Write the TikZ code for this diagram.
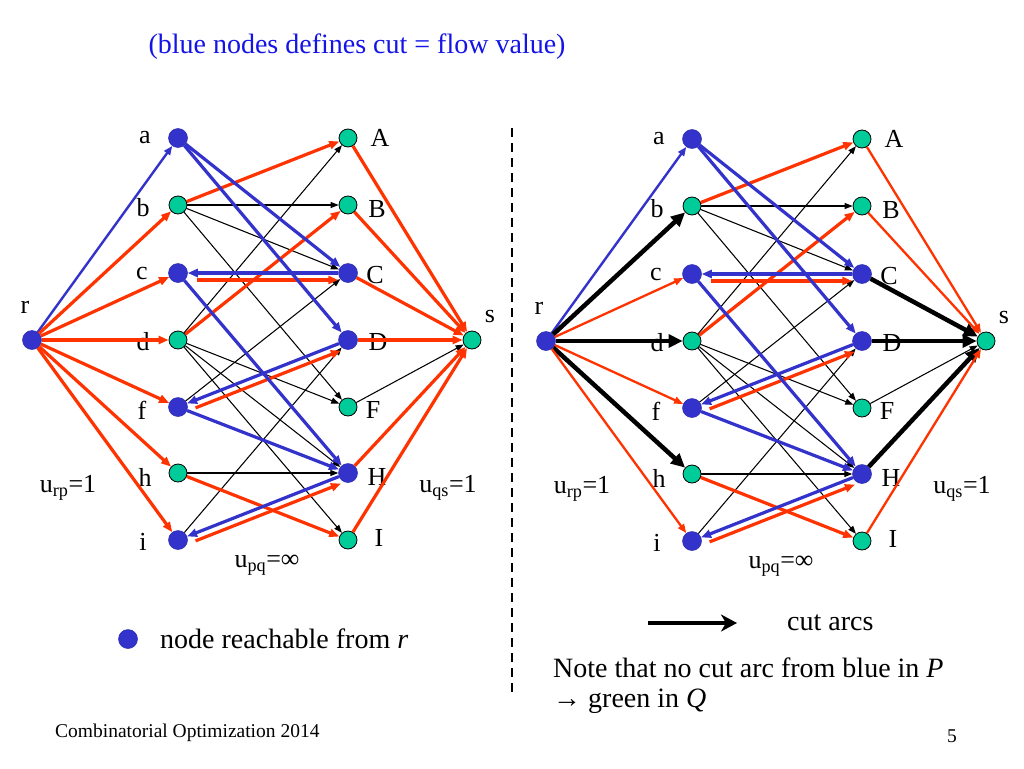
\documentclass[tikz,border=0pt]{standalone}
\usepackage{fontspec}
\setmainfont{Liberation Serif}
\usetikzlibrary{arrows.meta,calc}
\definecolor{nblue}{RGB}{51,51,204}
\definecolor{ngreen}{RGB}{0,204,153}
\definecolor{norange}{RGB}{255,51,0}
\definecolor{tblue}{RGB}{20,20,230}
\tikzset{
  bn/.style={circle,fill=nblue,draw=nblue!85!black,line width=0.5pt,inner sep=0pt,minimum size=19pt},
  gn/.style={circle,fill=ngreen,draw=black,line width=0.8pt,inner sep=0pt,minimum size=18pt},
  lab/.style={inner sep=0pt,font=\fontsize{26}{30}\selectfont},
  txt/.style={inner sep=0pt,font=\fontsize{28}{33}\selectfont},
  be/.style={draw=nblue,line width=3.2pt,-{Triangle[length=10pt,width=8pt]}},
  oe/.style={draw=norange,line width=3.2pt,-{Triangle[length=10pt,width=8pt]}},
  bthin/.style={draw=nblue,line width=2.4pt,-{Triangle[length=9pt,width=7pt]}},
  othin/.style={draw=norange,line width=2.3pt,-{Triangle[length=9pt,width=7pt]}},
  ke/.style={draw=black,line width=1.05pt,-{Triangle[length=8pt,width=6pt]}},
  ce/.style={draw=black,line width=4.5pt,-{Triangle[length=14pt,width=13pt]}},
}
\newcommand\gcore[1]{%
  \node[lab] (#1-la) at (145,138) {a};
  \node[lab] (#1-lb) at (143,208) {b};
  \node[lab] (#1-lc) at (142,273) {c};
  \node[lab] (#1-ld) at (143,342) {d};
  \node[lab] (#1-lf) at (142,410) {f};
  \node[lab] (#1-lh) at (145,477) {h};
  \node[lab] (#1-li) at (143,542) {i};
  \node[lab] (#1-lr) at (25,307) {r};
  \node[lab] (#1-ls) at (490,316) {s};
  \node[lab] (#1-lA) at (380,138) {A};
  \node[lab] (#1-lB) at (377,209) {B};
  \node[lab] (#1-lC) at (375,275) {C};
  \node[lab] (#1-lD) at (378,342) {D};
  \node[lab] (#1-lF) at (373,410) {F};
  \node[lab] (#1-lH) at (377,477) {H};
  \node[lab] (#1-lI) at (379,538) {I};
  \node[lab] (#1-urp) at (68,488) {u\textsubscript{rp}=1};
  \node[lab] (#1-uqs) at (448,488) {u\textsubscript{qs}=1};
  \node[lab] (#1-upq) at (267,565) {u\textsubscript{pq}=∞};
  \node[bn] (#1r) at (32,340) {};
  \node[bn] (#1a) at (178,138) {};
  \node[gn] (#1b) at (178,205) {};
  \node[bn] (#1c) at (178,273) {};
  \node[gn] (#1d) at (178,340) {};
  \node[bn] (#1f) at (178,407) {};
  \node[gn] (#1h) at (178,473) {};
  \node[bn] (#1i) at (178,540) {};
  \node[gn] (#1A) at (348,138) {};
  \node[gn] (#1B) at (348,205) {};
  \node[bn] (#1C) at (348,273) {};
  \node[bn] (#1D) at (348,340) {};
  \node[gn] (#1F) at (348,407) {};
  \node[bn] (#1H) at (348,473) {};
  \node[gn] (#1I) at (348,540) {};
  \node[gn] (#1s) at (472,340) {};
  % thin black arcs
  \draw[ke] (#1b) -- (#1B);
  \draw[ke] (#1b) -- (#1C);
  \draw[ke] (#1b) -- (#1F);
  \draw[ke] (#1d) -- (#1A);
  \draw[ke] (#1d) -- (#1F);
  \draw[ke] (#1d) -- (#1H);
  \draw[ke] (#1d) -- (#1I);
  \draw[ke] (#1f) -- (#1C);
  \draw[ke] (#1h) -- (#1H);
  \draw[ke] (#1i) -- (#1D);
  \draw[ke] (#1F) -- (#1s);
  % orange flow arcs
  \draw[oe] (#1b) -- (#1A);
  \draw[oe] (#1d) -- (#1B);
  \draw[oe] (#1h) -- (#1I);
  \draw[oe,transform canvas={yshift=-7pt},shorten <=9pt] (#1c) -- (#1C);
  \draw[oe,transform canvas={shift={(2pt,-7pt)}},shorten <=7pt] (#1f) -- (#1D);
  \draw[oe,transform canvas={shift={(2pt,-7pt)}},shorten <=7pt] (#1i) -- (#1H);
  % blue residual arcs
  \draw[be] (#1a) -- (#1C);
  \draw[be] (#1a) -- (#1D);
  \draw[be] (#1c) -- (#1H);
  \draw[be] (#1f) -- (#1H);
  \draw[be] (#1C) -- (#1c);
  \draw[be] (#1D) -- (#1f);
  \draw[be] (#1H) -- (#1i);
}
\begin{document}
\begin{tikzpicture}[x=1pt,y=-1pt]
\useasboundingbox (0,0) rectangle (1024,768);
\fill[white] (0,0) rectangle (1024,768);

\node[txt,text=tblue] (title) at (357,47) {(blue nodes defines cut = flow value)};

% left graph
\gcore{L}
\draw[bthin] (Lr) -- (La);
\draw[oe] (Lr) -- (Lb);
\draw[oe] (Lr) -- (Lc);
\draw[oe] (Lr) -- (Ld);
\draw[oe] (Lr) -- (Lf);
\draw[oe] (Lr) -- (Lh);
\draw[oe] (Lr) -- (Li);
\draw[oe] (LA) -- (Ls);
\draw[oe] (LB) -- (Ls);
\draw[oe] (LC) -- (Ls);
\draw[oe] (LD) -- (Ls);
\draw[oe] (LH) -- (Ls);
\draw[oe] (LI) -- (Ls);

% right graph
\begin{scope}[shift={(514,1)}]
\gcore{R}
\end{scope}
\draw[bthin] (Rr) -- (Ra);
\draw[ce] (Rr) -- (Rb);
\draw[othin] (Rr) -- (Rc);
\draw[ce] (Rr) -- (Rd);
\draw[othin] (Rr) -- (Rf);
\draw[ce] (Rr) -- (Rh);
\draw[othin] (Rr) -- (Ri);
\draw[othin] (RA) -- (Rs);
\draw[othin] (RB) -- (Rs);
\draw[ce] (RC) -- (Rs);
\draw[ce] (RD) -- (Rs);
\draw[ce] (RH) -- (Rs);
\draw[othin] (RI) -- (Rs);

% divider
\coordinate (div1) at (512,128);
\coordinate (div2) at (512,697);
\draw[line width=2.2pt,dash pattern=on 9pt off 6pt] (div1) -- (div2);

% legend
\node[bn] (legdot) at (128,639) {};
\node[txt,anchor=west] (legtxt) at (160,639) {node reachable from \textit{r}};
\coordinate (la1) at (648,623);
\coordinate (la2) at (737,623);
\draw[draw=black,line width=4.5pt,-{Stealth[length=16pt,width=17pt,inset=5pt]}] (la1) -- (la2);
\node[txt,anchor=west] (cuttxt) at (787,623) {cut arcs};
\node[txt,anchor=base west] (note1) at (553,677) {Note that no cut arc from blue in \textit{P}};
\node[txt,anchor=base west] (note2) at (553,707) {→ green in \textit{Q}};

% footer
\node[inner sep=0pt,anchor=base west,font=\fontsize{19.5}{23}\selectfont] (foot) at (55,737) {Combinatorial Optimization 2014};
\node[inner sep=0pt,anchor=base east,font=\fontsize{19.5}{23}\selectfont] (pnum) at (957,742) {5};
\end{tikzpicture}
\end{document}
